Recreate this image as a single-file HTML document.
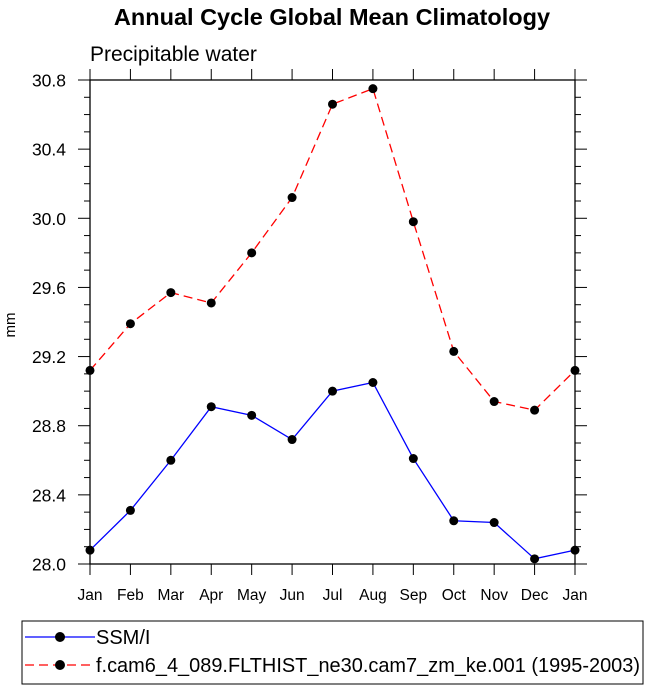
<!DOCTYPE html>
<html><head><meta charset="utf-8"><style>
html,body{margin:0;padding:0;background:#fff;}
svg{display:block;font-family:"Liberation Sans",Helvetica,Arial,sans-serif;}
</style></head><body>
<svg id="c" width="649" height="691" viewBox="0 0 649 691" xmlns="http://www.w3.org/2000/svg">
<text x="332" y="25" text-anchor="middle" font-size="23.5" font-weight="bold">Annual Cycle Global Mean Climatology</text>
<text x="90" y="61" font-size="21">Precipitable water</text>
<text transform="translate(15,325) rotate(-90)" text-anchor="middle" font-size="15">mm</text>
<g id="axes"></g>
<g id="marks"></g>
<rect x="22" y="621" width="621" height="63" fill="none" stroke="#000" stroke-width="1"/>
<g>
<line x1="25" y1="637" x2="95" y2="637" stroke="#0000ff" stroke-width="1.3"/>
<circle cx="60" cy="637" r="5" fill="#000"/>
<text x="96" y="644" font-size="20">SSM/I</text>
</g>
<g>
<line x1="25" y1="665" x2="95" y2="665" stroke="#ff0000" stroke-width="1.3" stroke-dasharray="9,5"/>
<circle cx="60" cy="665" r="5" fill="#000"/>
<text x="96" y="672" font-size="20" textLength="544" lengthAdjust="spacingAndGlyphs">f.cam6_4_089.FLTHIST_ne30.cam7_zm_ke.001 (1995-2003)</text>
</g>
</svg>
<script>
const months = ["Jan","Feb","Mar","Apr","May","Jun","Jul","Aug","Sep","Oct","Nov","Dec","Jan"];
const ssmi = [28.08,28.31,28.60,28.91,28.86,28.72,29.00,29.05,28.61,28.25,28.24,28.03,28.08];
const model = [29.12,29.39,29.57,29.51,29.80,30.12,30.66,30.75,29.98,29.23,28.94,28.89,29.12];
const yTicks = ["28.0","28.4","28.8","29.2","29.6","30.0","30.4","30.8"];

const L=90,R=575,T=80,B=564,yMin=28.0,yMax=30.8;
const NS="http://www.w3.org/2000/svg";
const xs=i=>L+(R-L)*i/(months.length-1);
const ys=v=>B-(B-T)*(v-yMin)/(yMax-yMin);
function mk(tag,attrs,parent,txt){const e=document.createElementNS(NS,tag);for(const k in attrs)e.setAttribute(k,attrs[k]);if(txt!==undefined)e.textContent=txt;parent.appendChild(e);return e;}
const ax=document.getElementById('axes'), mg=document.getElementById('marks');
const frame=mk('rect',{x:L,y:T,width:R-L,height:B-T,fill:'none',stroke:'#000','stroke-width':1.3},ax);


months.forEach((m,i)=>{
  const x=xs(i);
  mk('line',{x1:x,y1:B,x2:x,y2:B+11,stroke:'#000','stroke-width':1},ax);
  mk('line',{x1:x,y1:T,x2:x,y2:T-11,stroke:'#000','stroke-width':1},ax);
  const t=mk('text',{x:x,y:B+36,'text-anchor':'middle','font-size':15.5},ax,m);
  
  
});
yTicks.forEach((s,i)=>{
  const v=parseFloat(s),y=ys(v);
  mk('line',{x1:L-12,y1:y,x2:L,y2:y,stroke:'#000','stroke-width':1},ax);
  mk('line',{x1:R,y1:y,x2:R+12,y2:y,stroke:'#000','stroke-width':1},ax);
  const t=mk('text',{x:L-24,y:y+6.5,'text-anchor':'end','font-size':17.5},ax,s);
  
  
  if(i<yTicks.length-1){
    for(let k=1;k<4;k++){const yy=ys(v+0.1*k);
      mk('line',{x1:L-6,y1:yy,x2:L,y2:yy,stroke:'#000','stroke-width':1},ax);
      mk('line',{x1:R,y1:yy,x2:R+6,y2:yy,stroke:'#000','stroke-width':1},ax);}
  }
});
function series(data,color,dash,name){
  const g=mk('g',{},mg);
  
  
  const p=mk('polyline',{points:data.map((v,i)=>xs(i)+','+ys(v)).join(' '),fill:'none',stroke:color,'stroke-width':1.3},g);
  if(dash)p.setAttribute('stroke-dasharray',dash);
  data.forEach((v,i)=>{const c=mk('circle',{cx:xs(i),cy:ys(v),r:4.5,fill:'#000'},g);
    
    });
}
series(ssmi,'#0000ff',null,'series-ssmi');
series(model,'#ff0000','9,5','series-model');
</script>
</body></html>
